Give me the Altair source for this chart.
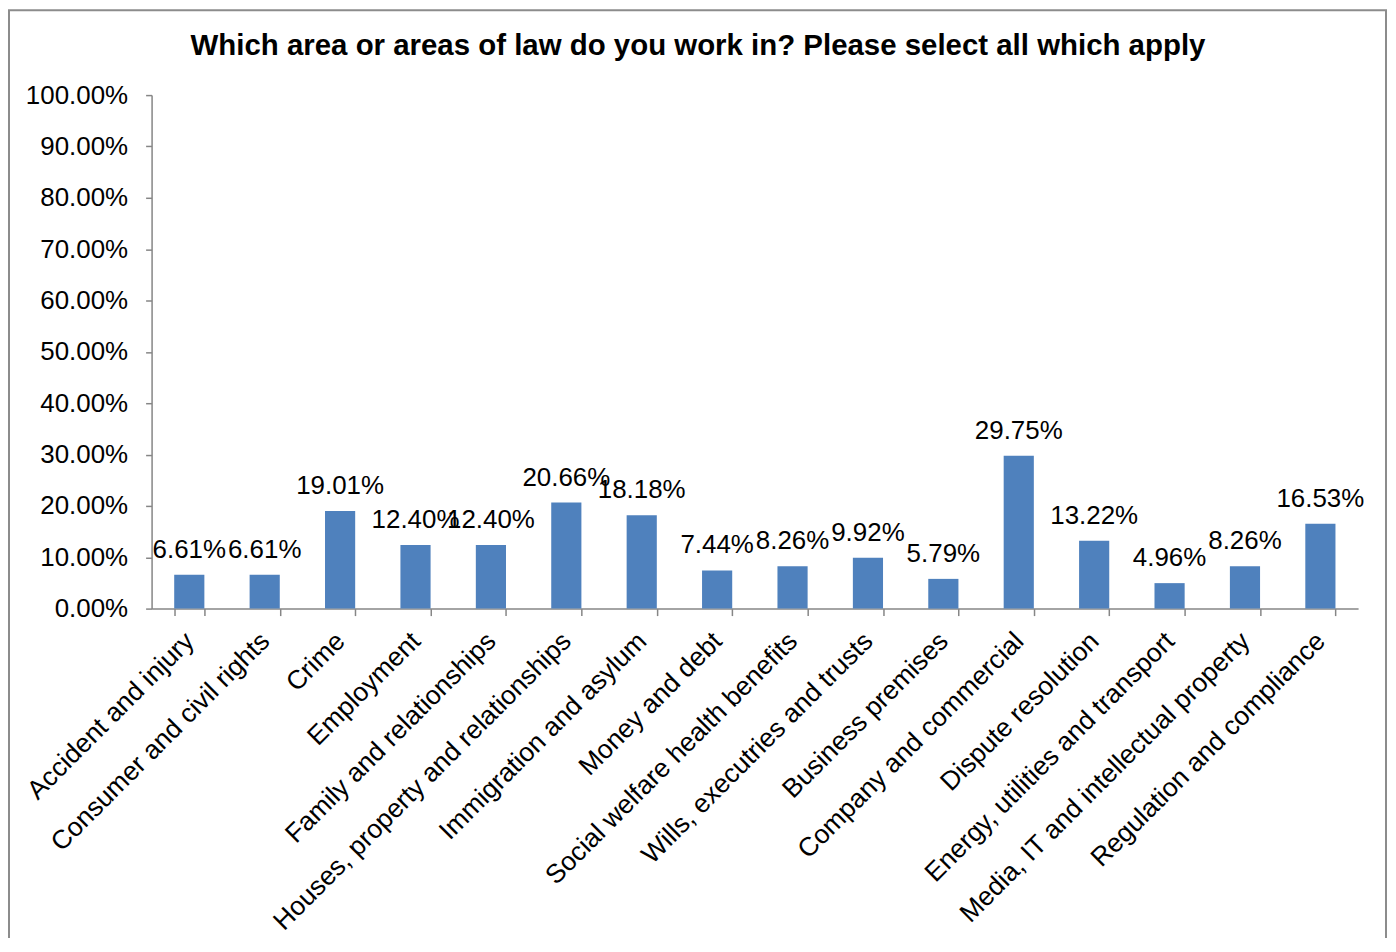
import altair as alt
import pandas as pd

categories = [
    "Accident and injury",
    "Consumer and civil rights",
    "Crime",
    "Employment",
    "Family and relationships",
    "Houses, property and relationships",
    "Immigration and asylum",
    "Money and debt",
    "Social welfare health benefits",
    "Wills, executries and trusts",
    "Business premises",
    "Company and commercial",
    "Dispute resolution",
    "Energy, utilities and transport",
    "Media, IT and intellectual property",
    "Regulation and compliance",
]
values = [0.0661, 0.0661, 0.1901, 0.1240, 0.1240, 0.2066, 0.1818, 0.0744,
          0.0826, 0.0992, 0.0579, 0.2975, 0.1322, 0.0496, 0.0826, 0.1653]
y_ticks = [0.0, 0.1, 0.2, 0.3, 0.4, 0.5, 0.6, 0.7, 0.8, 0.9, 1.0]
title_text = "Which area or areas of law do you work in? Please select all which apply"

FONT = "Liberation Sans, Arial, Helvetica, sans-serif"
AXIS_GRAY = "#868686"
BAR_BLUE = "#4F81BD"

df = pd.DataFrame({"area": categories, "share": values})

x_enc = alt.X(
    "area:N",
    sort=categories,
    scale=alt.Scale(paddingInner=0.6, paddingOuter=0.3),
    axis=alt.Axis(
        title=None,
        labelAngle=-45,
        labelAlign="right",
        labelBaseline="top",
        labelPadding=12,
        labelOffset=-9,
        labelFontSize=26.5,
        labelFont=FONT,
        labelColor="#000000",
        labelLimit=0,
        tickBand="extent",
        tickSize=7,
        tickColor=AXIS_GRAY,
        domainColor=AXIS_GRAY,
        domainWidth=1.5,
        tickWidth=1.5,
        labelOverlap=False,
    ),
)
y_enc = alt.Y(
    "share:Q",
    scale=alt.Scale(domain=[0, 1], nice=False),
    axis=alt.Axis(
        title=None,
        values=y_ticks,
        format=".2%",
        grid=False,
        labelFontSize=26,
        labelFont=FONT,
        labelColor="#000000",
        labelPadding=18,
        tickSize=6,
        tickColor=AXIS_GRAY,
        domainColor=AXIS_GRAY,
        domainWidth=1.5,
        tickWidth=1.5,
        labelOverlap=False,
    ),
)

base = alt.Chart(df)
bars = base.mark_bar(color=BAR_BLUE).encode(x=x_enc, y=y_enc)
texts = base.mark_text(
    baseline="alphabetic", dy=-17, fontSize=26, font=FONT, color="#000000"
).encode(x=x_enc, y=y_enc, text=alt.Text("share:Q", format=".2%"))

title = alt.Chart(pd.DataFrame({"t": [title_text]})).mark_text(
    font=FONT, fontSize=29.5, fontWeight="bold", color="#000000",
    align="center", baseline="alphabetic"
).encode(x=alt.value(548), y=alt.value(-40), text="t:N")

border = alt.Chart(pd.DataFrame({"b": [0]})).mark_rect(
    fill="transparent", stroke="#8c8c8c", strokeWidth=2
).encode(x=alt.value(-143), x2=alt.value(1238), y=alt.value(-85), y2=alt.value(900))

chart = alt.layer(border, bars, texts, title).properties(
    width=1210,
    height=515,
    autosize=alt.AutoSizeParams(type="none"),
    padding={"left": 144, "top": 86, "right": 30, "bottom": 329},
    background="white",
).configure_view(stroke=None)

chart.save("out.html", embed_options={"renderer": "svg", "actions": False})
